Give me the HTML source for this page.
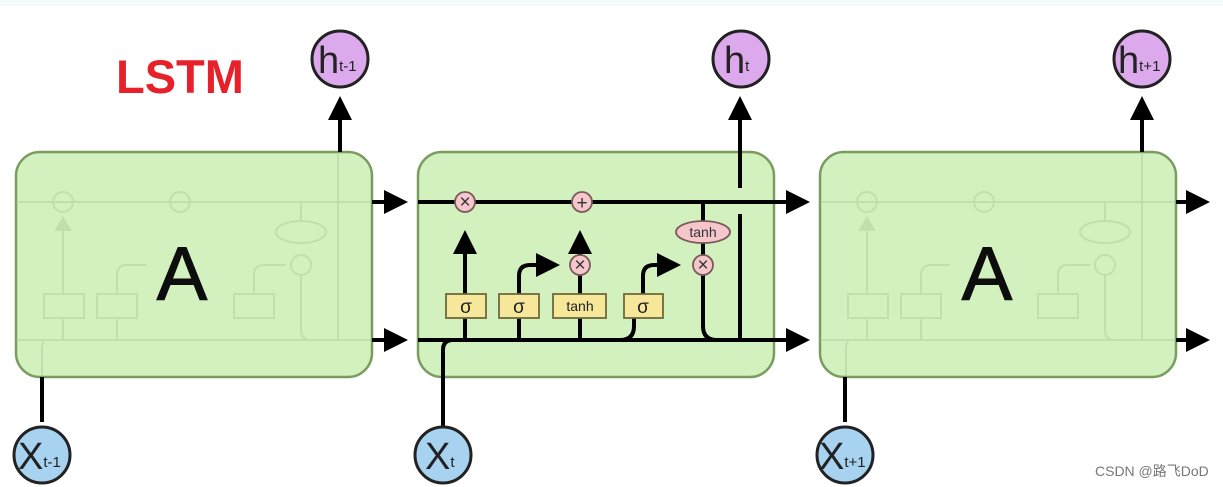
<!DOCTYPE html>
<html><head><meta charset="utf-8"><style>
html,body{margin:0;padding:0;background:#fff;}
svg{display:block;}
text{font-family:"Liberation Sans","Noto Sans CJK SC",sans-serif;}
</style></head><body>
<svg width="1223" height="487" viewBox="0 0 1223 487" xmlns="http://www.w3.org/2000/svg">
<defs>
<marker id="ah" markerWidth="6" markerHeight="6" refX="5" refY="3" orient="auto" markerUnits="strokeWidth"><path d="M0,0 L6,3 L0,6 z" fill="#000"/></marker>
<g id="faint" fill="none" stroke="#9cc48a" stroke-width="2">
<line x1="0" y1="202" x2="356" y2="202"/>
<line x1="0" y1="340" x2="356" y2="340"/>
<circle cx="47" cy="202" r="10"/>
<circle cx="164" cy="202" r="10"/>
<line x1="47" y1="294" x2="47" y2="225"/>
<path d="M40,230 L47,218 L54,230 z" fill="#9cc48a"/>
<rect x="28" y="294" width="40" height="24"/>
<rect x="81" y="294" width="40" height="24"/>
<rect x="218" y="294" width="40" height="24"/>
<line x1="47" y1="318" x2="47" y2="340"/>
<line x1="101" y1="318" x2="101" y2="340"/>
<path d="M101,294 V275 Q101,265 111,265 H130"/>
<path d="M238,294 V275 Q238,265 248,265 H270"/>
<circle cx="285" cy="265" r="10"/>
<ellipse cx="285" cy="232" rx="25" ry="11"/>
<line x1="285" y1="202" x2="285" y2="221"/>
<path d="M285,275 V330 Q285,340 295,340"/>
<line x1="322" y1="154" x2="322" y2="340"/>
<path d="M30,340 Q26,340 26,350 V377"/>
</g>
</defs>
<rect x="0" y="0" width="1223" height="6" fill="#f4f9fc"/>
<text x="116" y="93" font-size="47" font-weight="bold" fill="#e8202a">LSTM</text>

<rect x="16" y="152" width="356" height="225" rx="24" fill="#d3f0bf" stroke="#7a9c5e" stroke-width="2.5"/>
<rect x="418" y="152" width="356" height="225" rx="24" fill="#d3f0bf" stroke="#7a9c5e" stroke-width="2.5"/>
<rect x="820" y="152" width="356" height="225" rx="24" fill="#d3f0bf" stroke="#7a9c5e" stroke-width="2.5"/>
<g opacity="0.35"><use href="#faint" transform="translate(16,0)"/></g>
<g opacity="0.35"><use href="#faint" transform="translate(820,0)"/></g>
<text x="182" y="300" font-size="76" text-anchor="middle" fill="#0d0d0d" stroke="#0d0d0d" stroke-width="1">A</text>
<text x="987" y="300" font-size="76" text-anchor="middle" fill="#0d0d0d" stroke="#0d0d0d" stroke-width="1">A</text>

<g stroke="#000" stroke-width="4" fill="none">
<line x1="372" y1="202" x2="404" y2="202" marker-end="url(#ah)"/>
<line x1="372" y1="340" x2="404" y2="340" marker-end="url(#ah)"/>
<line x1="774" y1="202" x2="806" y2="202" marker-end="url(#ah)"/>
<line x1="774" y1="340" x2="806" y2="340" marker-end="url(#ah)"/>
<line x1="1176" y1="202" x2="1206" y2="202" marker-end="url(#ah)"/>
<line x1="1176" y1="340" x2="1206" y2="340" marker-end="url(#ah)"/>
<line x1="340" y1="152" x2="340" y2="100" marker-end="url(#ah)"/>
<line x1="1142" y1="152" x2="1142" y2="100" marker-end="url(#ah)"/>
<line x1="42" y1="377" x2="42" y2="422"/>
<line x1="845" y1="377" x2="845" y2="422"/>
</g>

<g stroke="#000" stroke-width="4" fill="none">
<line x1="418" y1="202" x2="800" y2="202"/>
<line x1="418" y1="340" x2="800" y2="340"/>
<path d="M443,428 V350 Q443,340 453,340 H620 Q634,340 634,326 V318"/>
<line x1="465" y1="294" x2="465" y2="234" marker-end="url(#ah)"/>
<line x1="465" y1="340" x2="465" y2="318"/>
<line x1="519" y1="340" x2="519" y2="318"/>
<line x1="580" y1="340" x2="580" y2="318"/>
<path d="M519,294 V276 Q519,265 530,265 H556" marker-end="url(#ah)"/>
<line x1="580" y1="294" x2="580" y2="275"/>
<line x1="580" y1="255" x2="580" y2="234" marker-end="url(#ah)"/>
<path d="M643,294 V276 Q643,265 654,265 H677" marker-end="url(#ah)"/>
<line x1="703" y1="202" x2="703" y2="221"/>
<line x1="703" y1="243" x2="703" y2="255"/>
<path d="M703,275 V326 Q703,340 717,340"/>
<line x1="740" y1="340" x2="740" y2="214"/>
<line x1="740" y1="188" x2="740" y2="100" marker-end="url(#ah)"/>
</g>
<g stroke="#7a5a5a" stroke-width="1.8" fill="#f5c6cc">
<circle cx="465" cy="202" r="10"/>
<circle cx="582" cy="202" r="10"/>
<circle cx="580" cy="265" r="10"/>
<circle cx="703" cy="265" r="10"/>
<ellipse cx="703" cy="232" rx="27" ry="11"/>
</g>
<g font-size="19" text-anchor="middle" fill="#333">
<text x="465" y="208">×</text>
<text x="582" y="209">+</text>
<text x="580" y="271">×</text>
<text x="703" y="271">×</text>
<text x="703" y="237" font-size="14">tanh</text>
</g>
<g stroke="#6e6a3a" stroke-width="1.8" fill="#f7e79a">
<rect x="446" y="294" width="40" height="24"/>
<rect x="499" y="294" width="40" height="24"/>
<rect x="553" y="294" width="53" height="24"/>
<rect x="624" y="294" width="39" height="24"/>
</g>
<g text-anchor="middle" fill="#222">
<text x="466" y="313" font-size="19">σ</text>
<text x="519" y="313" font-size="19">σ</text>
<text x="580" y="311" font-size="14">tanh</text>
<text x="643" y="313" font-size="19">σ</text>
</g>

<g stroke="#222" stroke-width="3" fill="#dca9ec">
<circle cx="340" cy="59" r="28"/>
<circle cx="741" cy="59" r="28"/>
<circle cx="1142" cy="59" r="28"/>
</g>
<g fill="#222">
<text x="318" y="73" font-size="38">h<tspan font-size="15" dy="-2">t-1</tspan></text>
<text x="724" y="73" font-size="38">h<tspan font-size="15" dy="-2">t</tspan></text>
<text x="1118" y="73" font-size="38">h<tspan font-size="15" dy="-2">t+1</tspan></text>
</g>
<g stroke="#222" stroke-width="3" fill="#a7d2f0">
<circle cx="42" cy="455" r="28"/>
<circle cx="443" cy="455" r="28"/>
<circle cx="845" cy="455" r="28"/>
</g>
<g fill="#222">
<text x="18" y="469" font-size="38">X<tspan font-size="15" dy="-2">t-1</tspan></text>
<text x="425" y="469" font-size="38">X<tspan font-size="15" dy="-2">t</tspan></text>
<text x="819" y="469" font-size="38">X<tspan font-size="15" dy="-2">t+1</tspan></text>
</g>
<text x="1095" y="476" font-size="14" fill="#777">CSDN @路飞DoD</text>
</svg>
</body></html>
